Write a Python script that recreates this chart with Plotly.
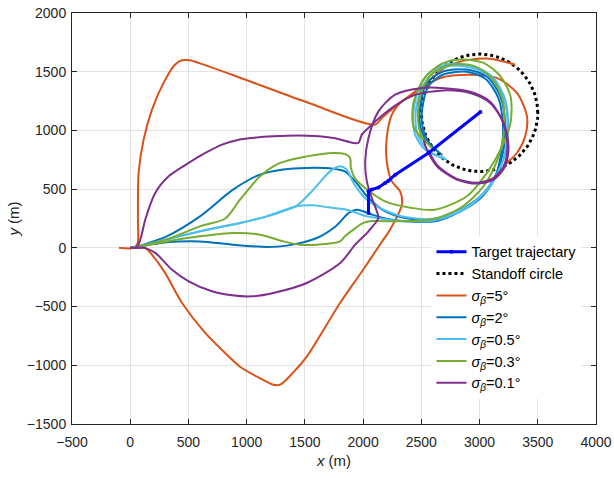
import numpy as np
import plotly.graph_objects as go

# ---------------- data (metres) ----------------
target_x = [2046, 2046, 2075, 2132, 2189, 2218, 2276, 2561, 3007]
target_y = [297, 481, 496, 515, 553, 572, 623, 808, 1157]

circle_center = (3000, 1150)
circle_radius = 500

# sigma = 5 deg (two branches)
s5_up_x = [-97, 32, 64, 66, 72, 115, 187, 287, 384, 444, 513, 588, 943, 1516, 2103,
           2161, 2275, 2392, 2576, 2719, 2920, 3091, 3306]
s5_up_y = [0, 0, 40, 240, 640, 921, 1177, 1407, 1560, 1597, 1597, 1575, 1449, 1240, 1049,
           1106, 1205, 1290, 1432, 1546, 1603, 1611, 1560]
s5_lo_x = [32, 110, 144, 187, 298, 444, 642, 848, 943, 1089, 1229, 1287, 1398, 1516, 1803,
           2000, 2150, 2240, 2333, 2318, 2247, 2203, 2203, 2247, 2333, 2424, 2662, 2920,
           3149, 3321, 3407, 3392, 3321, 3206]
s5_lo_y = [0, 0, -10, -58, -211, -467, -722, -927, -1012, -1097, -1165, -1165, -1063, -927,
           -467, -186, 35, 170, 368, 481, 566, 737, 936, 1134, 1248, 1305, 1447, 1475,
           1447, 1319, 1120, 950, 808, 700]

# sigma = 2 deg
s2_up_x = [0, 23, 313, 599, 883, 1115, 1312, 1516, 1742, 1846, 1932, 2046, 2189, 2361,
           2619, 2891, 3035, 3149, 3206, 3220, 3178, 3063, 2891, 2690, 2548, 2490, 2490, 2548]
s2_up_y = [0, 2, 98, 268, 496, 624, 667, 681, 674, 650, 566, 425, 311, 255,
           240, 353, 467, 638, 836, 1064, 1290, 1460, 1518, 1503, 1404, 1205, 1035, 893]
s2_lo_x = [0, 23, 313, 599, 883, 1172, 1344, 1602, 1760, 1880, 1940, 2000, 2075, 2247,
           2619, 2891, 3035, 3140, 3190, 3200, 3160, 3050, 2891, 2700, 2570, 2510, 2510, 2570, 2680]
s2_lo_y = [0, 2, 47, 55, 27, 8, 19, 84, 180, 300, 325, 312, 283, 240,
           226, 340, 450, 620, 836, 1064, 1280, 1440, 1500, 1480, 1390, 1205, 1035, 890, 790]

# sigma = 0.5 deg
s05_up_x = [0, 23, 599, 943, 1172, 1430, 1573, 1716, 1803, 1860, 1917, 2032, 2189, 2361,
            2619, 2920, 3092, 3204, 3247, 3221, 3118, 2963, 2748, 2576, 2473, 2430, 2447, 2533, 2720]
s05_up_y = [0, 2, 141, 212, 268, 360, 496, 651, 694, 666, 553, 410, 318, 262,
            250, 366, 537, 750, 1005, 1260, 1449, 1543, 1567, 1499, 1345, 1133, 963, 836, 751]
s05_lo_x = [0, 23, 599, 943, 1172, 1430, 1573, 1700, 1860, 2032, 2118, 2247, 2619, 2900,
            3080, 3200, 3240, 3215, 3110, 2950, 2750, 2590, 2490, 2450, 2470, 2560, 2700]
s05_lo_y = [0, 2, 141, 212, 268, 355, 362, 345, 325, 268, 255, 235, 235, 345,
            510, 740, 1000, 1250, 1440, 1530, 1550, 1480, 1330, 1130, 960, 830, 760]

# sigma = 0.3 deg
s03_up_x = [0, 23, 313, 599, 816, 943, 1115, 1287, 1516, 1745, 1846, 1888, 1895, 1932,
            2018, 2189, 2419, 2619, 2891, 3063, 3180, 3266, 3266, 3180, 3034, 2834, 2662,
            2518, 2432, 2432, 2518]
s03_up_y = [0, 2, 72, 183, 250, 410, 609, 723, 779, 808, 798, 766, 680, 590,
            510, 396, 340, 325, 439, 638, 837, 1064, 1290, 1460, 1575, 1603, 1560,
            1432, 1234, 1035, 921]
s03_lo_x = [0, 23, 313, 599, 885, 1115, 1315, 1455, 1602, 1803, 1846, 2003, 2075, 2318,
            2604, 2850, 3030, 3150, 3210, 3200, 3110, 2950, 2760, 2600, 2500, 2470, 2500, 2600]
s03_lo_y = [0, 2, 55, 98, 127, 112, 55, 27, 27, 55, 100, 212, 228, 226,
            245, 350, 520, 740, 1000, 1250, 1440, 1550, 1560, 1490, 1330, 1130, 960, 840]

# sigma = 0.1 deg
s01_up_x = [0, 60, 95, 129, 215, 330, 502, 645, 788, 932, 1046, 1229, 1516, 1745, 1917,
            1960, 1989, 2075, 2189, 2333, 2454, 2690, 2920, 3091, 3206, 3249, 3220, 3120,
            2977, 2805, 2634, 2548, 2519]
s01_up_y = [0, 10, 100, 240, 468, 609, 723, 808, 879, 921, 936, 950, 955, 936, 893,
            893, 964, 1049, 1149, 1248, 1305, 1341, 1319, 1234, 1064, 864, 694, 581,
            547, 581, 694, 836, 921]
s01_lo_x = [0, 80, 115, 215, 359, 502, 702, 874, 1046, 1229, 1516, 1803, 1932, 2046, 2132,
            2118, 2075, 2032, 2018, 2046, 2132, 2275, 2490, 2700, 2920, 3091, 3200, 3240,
            3210, 3110, 2970, 2800, 2640, 2560]
s01_lo_y = [0, 0, 2, -43, -187, -285, -370, -404, -413, -384, -299, -129, 27, 141, 255,
            311, 425, 566, 737, 936, 1162, 1305, 1360, 1360, 1330, 1245, 1075, 870,
            700, 590, 555, 590, 700, 830]

x_ticks = [-500, 0, 500, 1000, 1500, 2000, 2500, 3000, 3500, 4000]
y_ticks = [-1500, -1000, -500, 0, 500, 1000, 1500, 2000]

# ---------------- figure ----------------
C_OR = "#D95319"
C_BL = "#0072BD"
C_LB = "#4DBEEE"
C_GR = "#77AC30"
C_PU = "#7E2F8E"
FONT = "Liberation Sans, Arial, sans-serif"

fig = go.Figure()

def add_pair(xu, yu, xl, yl, color, name, rank):
    fig.add_trace(go.Scatter(x=xu, y=yu, mode="lines", name=name, legendgroup=name,
                             legendrank=rank,
                             line=dict(color=color, width=2, shape="spline", smoothing=0.8)))
    fig.add_trace(go.Scatter(x=xl, y=yl, mode="lines", name=name, legendgroup=name,
                             showlegend=False,
                             line=dict(color=color, width=2, shape="spline", smoothing=0.8)))

th = np.linspace(0, 2 * np.pi, 361)
cx = circle_center[0] + circle_radius * np.cos(th)
cy = circle_center[1] + circle_radius * np.sin(th)
fig.add_trace(go.Scatter(x=cx, y=cy, mode="lines", name="Standoff circle", legendrank=2,
                         line=dict(color="black", width=3, dash="dot")))

add_pair(s5_up_x, s5_up_y, s5_lo_x, s5_lo_y, C_OR, "<i>σ</i><sub><i>β</i></sub>=5°", 3)
add_pair(s2_up_x, s2_up_y, s2_lo_x, s2_lo_y, C_BL, "<i>σ</i><sub><i>β</i></sub>=2°", 4)
add_pair(s05_up_x, s05_up_y, s05_lo_x, s05_lo_y, C_LB, "<i>σ</i><sub><i>β</i></sub>=0.5°", 5)
add_pair(s03_up_x, s03_up_y, s03_lo_x, s03_lo_y, C_GR, "<i>σ</i><sub><i>β</i></sub>=0.3°", 6)
add_pair(s01_up_x, s01_up_y, s01_lo_x, s01_lo_y, C_PU, "<i>σ</i><sub><i>β</i></sub>=0.1°", 7)

fig.add_trace(go.Scatter(x=target_x, y=target_y, mode="lines+markers", name="Target trajectary",
                         legendrank=1,
                         line=dict(color="#0000FF", width=3),
                         marker=dict(color="#0000FF", size=4)))

axis_common = dict(
    showgrid=True, gridcolor="#E3E3E3", gridwidth=1, automargin=False,
    zeroline=False, showline=True, linecolor="#262626", linewidth=1,
    mirror="ticks", ticks="inside", ticklen=5, tickcolor="#262626",
    tickfont=dict(family=FONT, size=14, color="#262626"),
)

fig.update_layout(
    width=614, height=478,
    margin=dict(l=72, r=18, t=13, b=54, autoexpand=False),
    paper_bgcolor="white", plot_bgcolor="white",
    font=dict(family=FONT, size=14, color="#262626"),
    xaxis=dict(range=[-500, 4000], tickvals=x_ticks, ticklabelstandoff=5,
               title=dict(text="<i>x</i> (m)", standoff=6,
                          font=dict(size=15, color="#262626")),
               **axis_common),
    yaxis=dict(range=[-1500, 2000], tickvals=y_ticks, ticklabelstandoff=2,
               title=dict(text="<i>y</i> (m)", standoff=3,
                          font=dict(size=15, color="#262626")),
               **axis_common),
    legend=dict(x=0.686, y=0.458, xanchor="left", yanchor="top",
                bgcolor="white", borderwidth=0, tracegroupgap=0,
                font=dict(family=FONT, size=14.5, color="black"),
                itemwidth=30),
    showlegend=True,
)

fig.write_html("out.html", config={"displayModeBar": False},
               post_script="document.body.style.margin='0px';")
